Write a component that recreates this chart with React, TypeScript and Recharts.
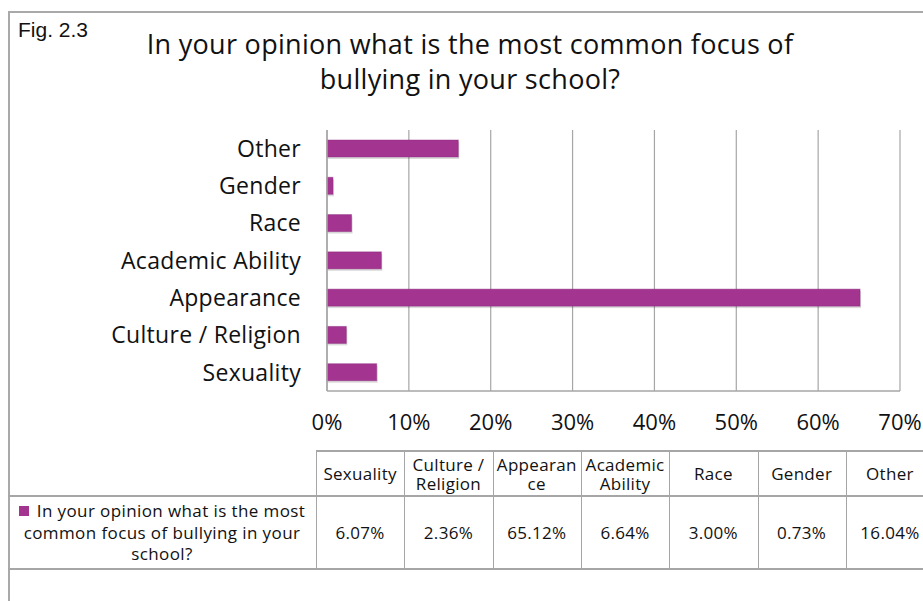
import React from "react";
import { BarChart, Bar, XAxis, YAxis, CartesianGrid } from "recharts";

const categories = ["Sexuality", "Culture / Religion", "Appearance", "Academic Ability", "Race", "Gender", "Other"];
const values = [6.07, 2.36, 65.12, 6.64, 3.0, 0.73, 16.04];
const headerLabels = ["Sexuality", "Culture /\nReligion", "Appearan\nce", "Academic\nAbility", "Race", "Gender", "Other"];
const xTicks = [0, 10, 20, 30, 40, 50, 60, 70];
const seriesName = "In your opinion what is the most common focus of bullying in your school?";
const titleLines = ["In your opinion what is the most common focus of", "bullying in your school?"];
const figLabel = "Fig. 2.3";

const data = categories.map((c, i) => ({ name: c, value: values[i] }));

const BAR = "#a3348f";
const GRID = "#a6a6a6";
const FONT = "'Open Sans', Lato, sans-serif";

const colLeft = 316;
const colW = 88.3;
const tableTop = 450;
const headerBottom = 495;
const rowBottom = 568;

const BarShape = (props: any) => {
  const { x, y, width, height } = props;
  if (!(width > 0) || !(height > 0)) return null;
  return (
    <g>
      <rect x={x + 1} y={y + 2} width={width} height={height} fill="rgba(0,0,0,0.14)" />
      <rect x={x} y={y} width={width} height={height} fill={BAR} stroke="#8c2a7c" strokeOpacity={0.45} strokeWidth={1} />
    </g>
  );
};

export default function App() {
  return (
    <div style={{ position: "absolute", left: 0, top: 0, width: 923, height: 601, background: "#fff", overflow: "hidden", fontFamily: FONT, color: "#111" }}>
      <div style={{ position: "absolute", left: 8, top: 11, width: 1000, height: 700, border: "2px solid #a9a9a9", boxSizing: "border-box" }} />
      <div style={{ position: "absolute", left: 18, top: 18, fontSize: 21, fontFamily: "'Liberation Sans', Arial, sans-serif", color: "#111" }}>{figLabel}</div>
      <div style={{ position: "absolute", left: 0, top: 26, width: 940, textAlign: "center", fontSize: 27, lineHeight: "35px", letterSpacing: 0.3, color: "#111" }}>
        {titleLines.map((t) => (
          <div key={t}>{t}</div>
        ))}
      </div>

      <div style={{ position: "absolute", left: 0, top: 0 }}>
        <BarChart
          width={923}
          height={440}
          data={data}
          layout="vertical"
          margin={{ top: 130, right: 23, bottom: 9, left: 0 }}
          barSize={17}
        >
          <CartesianGrid horizontal={false} vertical={true} stroke={GRID} strokeWidth={1.2} />
          <XAxis
            type="number"
            dataKey="value"
            domain={[0, 70]}
            ticks={xTicks}
            tickFormatter={(v: number) => `${v}%`}
            height={40}
            tickLine={false}
            tickSize={0}
            tickMargin={23}
            axisLine={{ stroke: GRID, strokeWidth: 1.5 }}
            tick={{ fontSize: 22, fill: "#111", fontFamily: FONT }}
            interval={0}
          />
          <YAxis
            type="category"
            dataKey="name"
            reversed
            width={327}
            tickLine={false}
            tickSize={0}
            tickMargin={26}
            axisLine={{ stroke: GRID, strokeWidth: 1.5 }}
            tick={{ fontSize: 23, fill: "#111", fontFamily: FONT, letterSpacing: 0.3 }}
            interval={0}
          />
          <Bar dataKey="value" fill={BAR} isAnimationActive={false} shape={(p: any) => <BarShape {...p} />} />
        </BarChart>
      </div>

      <div style={{ position: "absolute", left: colLeft, top: tableTop, width: 700, height: 0, borderTop: `2px solid ${GRID}` }} />
      <div style={{ position: "absolute", left: 8, top: headerBottom, width: 1000, height: 0, borderTop: `2px solid ${GRID}` }} />
      <div style={{ position: "absolute", left: 8, top: rowBottom, width: 1000, height: 0, borderTop: `2px solid ${GRID}` }} />
      {categories.map((c, i) => (
        <div key={"v" + c} style={{ position: "absolute", left: colLeft + i * colW, top: tableTop, width: 0, height: rowBottom - tableTop, borderLeft: `1.5px solid ${GRID}` }} />
      ))}
      <div style={{ position: "absolute", left: colLeft + 7 * colW, top: tableTop, width: 0, height: rowBottom - tableTop, borderLeft: `1.5px solid ${GRID}` }} />
      {headerLabels.map((h, i) => (
        <div key={"h" + i} style={{ position: "absolute", left: colLeft + i * colW, top: tableTop + 2, width: colW, height: headerBottom - tableTop - 2, display: "flex", alignItems: "center", justifyContent: "center", textAlign: "center", whiteSpace: "pre-line", fontSize: 17, lineHeight: "19px", letterSpacing: 0.3 }}>
          {h}
        </div>
      ))}
      {values.map((v, i) => (
        <div key={"d" + i} style={{ position: "absolute", left: colLeft + i * colW, top: headerBottom + 2, width: colW, height: rowBottom - headerBottom - 2, display: "flex", alignItems: "center", justifyContent: "center", fontSize: 17, letterSpacing: 0.3 }}>
          {v.toFixed(2) + "%"}
        </div>
      ))}
      <div style={{ position: "absolute", left: 10, top: headerBottom + 4, width: colLeft - 12, height: rowBottom - headerBottom - 6, display: "flex", alignItems: "center", justifyContent: "center", textAlign: "center", fontSize: 17, lineHeight: "21.5px", letterSpacing: 0.4 }}>
        <div>
          <span style={{ display: "inline-block", width: 10, height: 10, background: BAR, marginRight: 8, verticalAlign: "middle", position: "relative", top: -2 }} />
          {seriesName}
        </div>
      </div>
    </div>
  );
}
